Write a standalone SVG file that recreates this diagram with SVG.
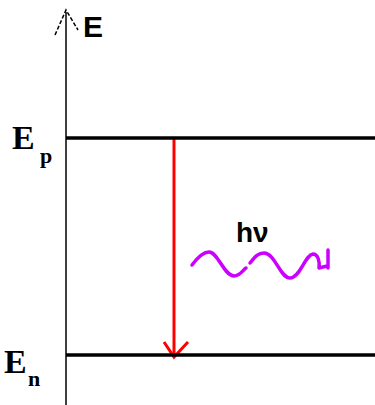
<svg xmlns="http://www.w3.org/2000/svg" width="375" height="405" viewBox="0 0 375 405">
<style>
.lvl{stroke:#000;stroke-width:3.5;fill:none}
.ax{stroke:#000;stroke-width:1.5;fill:none}
.lbl{font-family:"Liberation Serif",serif;font-weight:bold;fill:#000}
.sans{font-family:"Liberation Sans",Arial,sans-serif;font-weight:bold;fill:#000}
</style>
<rect width="375" height="405" fill="#fff"/>
<g id="connectors">
<path class="ax" d="M66 12 V405"/>
<path d="M55 35 L66 10 L78 30" stroke="#000" stroke-width="1.5" fill="none" stroke-dasharray="4,2"/>
<path d="M174 138 V356" stroke="#f00" stroke-width="3" fill="none"/>
<path d="M164 342 L174 357 L188 342" stroke="#f00" stroke-width="3" fill="none"/>
<path d="M192 265 C198 257 203 252 209 252 C218 252 224 276 234 276 C240 276 243 270 246 268 M250 263 C255 257 258 253 264 253 C275 253 280 278 290 278 C300 278 305 255 313 254 C318 254 320 262 319 268 L327 266 M328 250 V268" stroke="#cc00ff" stroke-width="3.5" fill="none" stroke-linecap="round" stroke-linejoin="round"/>
</g>
<g id="axisLabel"><text class="sans" x="83" y="37" font-size="30">E</text></g>
<g id="levelP">
<path class="lvl" d="M66 138 H375"/>
<text class="lbl" x="12" y="149" font-size="34">E</text>
<text class="lbl" x="40" y="163" font-size="22">p</text>
</g>
<g id="levelN">
<path class="lvl" d="M66 355 H375"/>
<text class="lbl" x="4" y="373" font-size="34">E</text>
<text class="lbl" x="28" y="386" font-size="22">n</text>
</g>
<g id="photon"><text class="sans" x="236" y="242" font-size="28">hν</text></g>
</svg>
